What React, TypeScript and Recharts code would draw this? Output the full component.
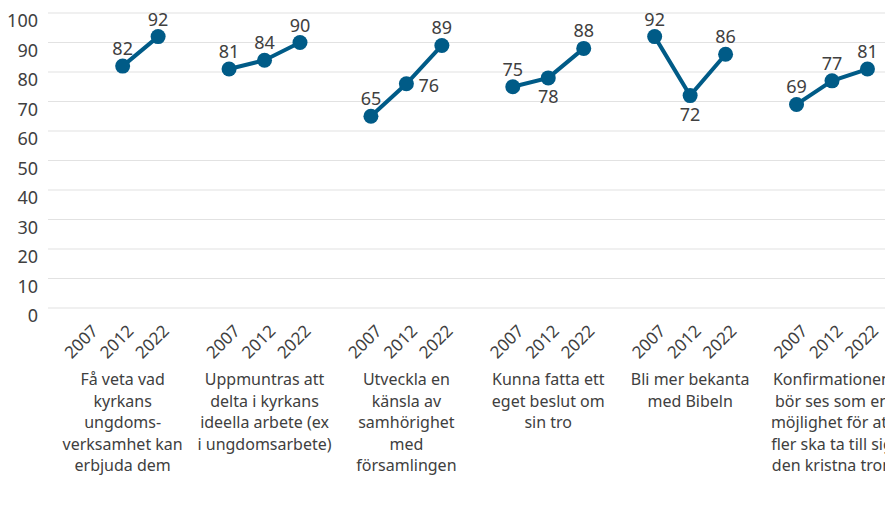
import { LineChart, Line, XAxis, YAxis, CartesianGrid, LabelList } from 'recharts';

const years = ['2007', '2012', '2022'];

const groupLabels: string[][] = [
  ['Få veta vad', 'kyrkans', 'ungdoms-', 'verksamhet kan', 'erbjuda dem'],
  ['Uppmuntras att', 'delta i kyrkans', 'ideella arbete (ex', 'i ungdomsarbete)'],
  ['Utveckla en', 'känsla av', 'samhörighet', 'med', 'församlingen'],
  ['Kunna fatta ett', 'eget beslut om', 'sin tro'],
  ['Bli mer bekanta', 'med Bibeln'],
  ['Konfirmationen', 'bör ses som en', 'möjlighet för att', 'fler ska ta till sig', 'den kristna tron'],
];

const g1 = [null, 82, 92];
const g2 = [81, 84, 90];
const g3 = [65, 76, 89];
const g4 = [75, 78, 88];
const g5 = [92, 72, 86];
const g6 = [69, 77, 81];

const yTicks = [0, 10, 20, 30, 40, 50, 60, 70, 80, 90, 100];

// where a value label sits when it is not above its point (group-yearIndex)
const labelPlacement: Record<string, string> = {
  '2-1': 'right',
  '3-1': 'bottom',
  '4-1': 'bottom',
};

const BLUE = '#005b87';
const TEXT = '#404040';
const FONT = '"Noto Sans", "Open Sans", sans-serif';

// one empty slot (null) between groups so the line breaks
const rows = [g1, g2, g3, g4, g5, g6].flatMap((vals, g) => {
  const r: { x: number; group: number; yi: number; value: number | null }[] = vals.map((v, j) => ({
    x: g * 4 + j,
    group: g,
    yi: j,
    value: v,
  }));
  if (g < 5) r.push({ x: g * 4 + 3, group: g, yi: 3, value: null });
  return r;
});
const tickXs = rows.filter((r) => r.yi < 3).map((r) => r.x);

const YearTick = (props: any) => {
  const { x, y, payload } = props;
  const g = Math.floor(payload.value / 4);
  const j = payload.value % 4;
  const ax = x + 12;
  const ay = y + 24;
  return (
    <g>
      <text
        x={ax}
        y={ay}
        textAnchor="end"
        fontSize={17}
        fill={TEXT}
        fontFamily={FONT}
        transform={`rotate(-45, ${ax}, ${ay})`}
      >
        {years[j]}
      </text>
      {j === 1 &&
        groupLabels[g].map((line, i) => (
          <text
            key={i}
            x={x}
            y={y + 77 + i * 21.5}
            textAnchor="middle"
            fontSize={16}
            fill={TEXT}
            fontFamily={FONT}
          >
            {line}
          </text>
        ))}
    </g>
  );
};

const ValueLabel = (props: any) => {
  const { x, y, value, index } = props;
  if (value == null) return null;
  const row = rows[index];
  const pos = labelPlacement[`${row.group}-${row.yi}`] || 'top';
  let tx = x;
  let ty = y - 11;
  let anchor = 'middle';
  if (pos === 'bottom') ty = y + 25;
  if (pos === 'right') {
    tx = x + 12;
    ty = y + 8;
    anchor = 'start';
  }
  return (
    <text x={tx} y={ty} textAnchor={anchor} fontSize={18} fill={TEXT} fontFamily={FONT}>
      {value}
    </text>
  );
};

export default function App() {
  return (
    <div style={{ width: 893, height: 525, margin: -8, fontFamily: FONT }}>
      <LineChart width={893} height={525} data={rows} margin={{ top: 13, right: 0, bottom: 5, left: 0 }}>
        <CartesianGrid vertical={false} stroke="#e2e2e2" strokeWidth={1.2} />
        <XAxis
          dataKey="x"
          type="number"
          domain={[-1.105, 22.72]}
          ticks={tickXs}
          interval={0}
          tick={<YearTick />}
          tickLine={false}
          axisLine={false}
          tickSize={0}
          tickMargin={0}
          height={212}
        />
        <YAxis
          domain={[0, 100]}
          ticks={yTicks}
          interval={0}
          width={48}
          tickLine={false}
          axisLine={false}
          tickSize={0}
          tickMargin={10}
          tick={{ fontSize: 18, fill: TEXT, fontFamily: FONT, dy: 8 }}
        />
        <Line
          dataKey="value"
          stroke={BLUE}
          strokeWidth={4}
          connectNulls={false}
          dot={{ r: 7.5, fill: BLUE, stroke: BLUE, strokeWidth: 0 }}
          activeDot={false}
          isAnimationActive={false}
        >
          <LabelList dataKey="value" content={<ValueLabel />} />
        </Line>
      </LineChart>
    </div>
  );
}
